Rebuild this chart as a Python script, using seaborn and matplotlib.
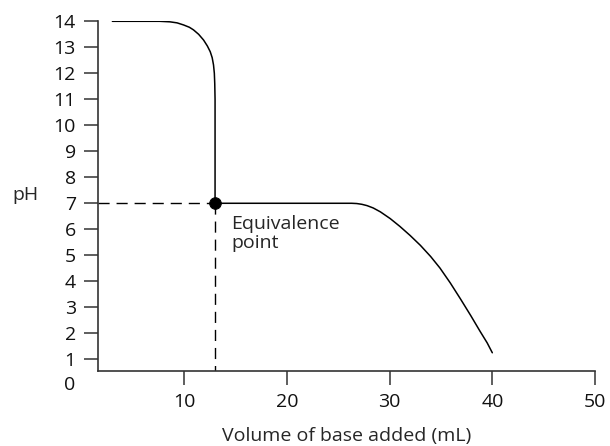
import matplotlib
matplotlib.use("Agg")
import matplotlib.pyplot as plt
import seaborn as sns
import pandas as pd

# Titration curve
volume_ml = [3.0, 7.6, 8.6, 9.3, 9.93, 10.5, 10.9, 11.4, 11.88, 12.25, 12.53, 12.72, 12.85,
             12.93, 12.97, 13.0, 13.0, 13.1, 13.6,
             26.3, 26.8, 27.3, 27.8, 28.4, 29.1, 30.06, 31.0, 32.0, 33.0, 34.0, 34.9, 35.9,
             36.9, 37.9, 38.8, 39.5, 40.0]
ph_values = [14.0, 14.0, 13.98, 13.94, 13.86, 13.77, 13.67, 13.5, 13.28, 13.05, 12.83, 12.6, 12.32,
             12.0, 11.6, 11.0, 7.12, 7.03, 7.0,
             7.0, 6.99, 6.96, 6.91, 6.82, 6.67, 6.41, 6.11, 5.76, 5.38, 4.95, 4.51, 3.94,
             3.32, 2.68, 2.08, 1.63, 1.25]

equiv_x = [13.0]
equiv_y = [7.0]

x_ticks = [10, 20, 30, 40, 50]
y_ticks = list(range(1, 15))

sns.set_style("ticks")
plt.rcParams['font.family'] = ['Open Sans', 'DejaVu Sans']

FS = 14
fig = plt.figure(figsize=(6.10, 4.46), dpi=100)
ax = fig.add_axes([98 / 610, 1 - 370.7 / 446, (595 - 98) / 610, (370.7 - 21.3) / 446])

df = pd.DataFrame({"x": volume_ml, "y": ph_values})
sns.lineplot(data=df, x="x", y="y", sort=False, estimator=None, color="black", lw=1.1, ax=ax)

# dashed guide lines
ax.plot([1.6, equiv_x[0]], [equiv_y[0], equiv_y[0]], color="black", lw=1.0, dashes=(8, 5))
ax.plot([equiv_x[0], equiv_x[0]], [equiv_y[0], 0.56], color="black", lw=1.0, dashes=(8, 5))

sns.scatterplot(x=equiv_x, y=equiv_y, color="black", s=70, ax=ax, zorder=5, edgecolor="black")

ax.text(14.6, 6.55, "Equivalence\npoint", fontsize=FS, va="top", ha="left", linespacing=1.1)

ax.set_xlim(1.6, 50)
ax.set_ylim(0.56, 14)
ax.set_xticks(x_ticks)
ax.set_yticks(y_ticks)
ax.set_xticklabels([str(t) for t in x_ticks])
ax.set_yticklabels([str(t) for t in y_ticks])

spine_col = "#333333"
for s in ["left", "bottom"]:
    ax.spines[s].set_color(spine_col)
    ax.spines[s].set_linewidth(1.2)
sns.despine(ax=ax)
ax.tick_params(direction="out", length=10, width=1.1, color=spine_col,
               labelsize=FS, labelcolor="#111111")
ax.tick_params(axis="y", pad=6.0)
ax.tick_params(axis="x", pad=6.0)

ax.annotate("0", xy=(0, 0), xycoords=ax.get_yaxis_transform(),
            xytext=(-16.6, 0), textcoords="offset points", ha="right", va="center",
            fontsize=FS, color="#111111", annotation_clip=False)

ax.set_xlabel("Volume of base added (mL)", fontsize=FS, labelpad=11.5)
ax.set_ylabel("pH", fontsize=FS, rotation=0, va="center", ha="center")
ax.yaxis.set_label_coords(-0.146, (7.3 - 0.56) / (14 - 0.56))

fig.savefig("out.png", dpi=100)
